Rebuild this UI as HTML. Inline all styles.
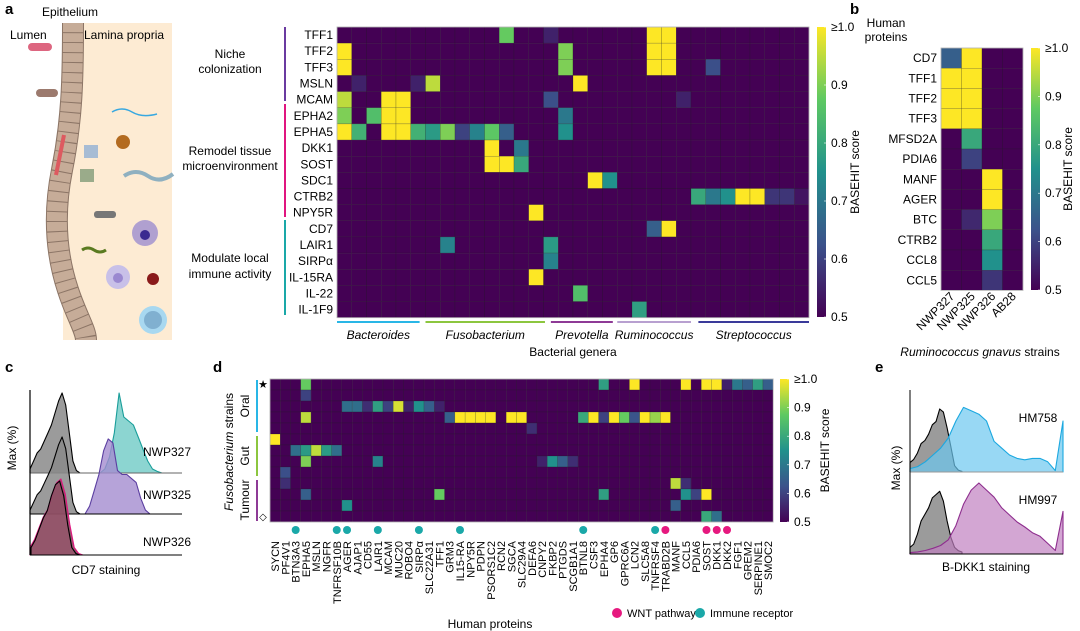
<!DOCTYPE html>
<html><head><meta charset="utf-8"><style>
html,body{margin:0;padding:0;background:#fff}
svg{display:block;font-family:"Liberation Sans",Arial,sans-serif}
</style></head><body>
<svg id="fig" width="1080" height="631" viewBox="0 0 1080 631" xmlns="http://www.w3.org/2000/svg">
<g font-weight="bold" font-size="15">
<text x="5" y="14">a</text><text x="850" y="14">b</text><text x="5" y="372">c</text><text x="213" y="372">d</text><text x="875" y="372">e</text>
</g>
<g>
<rect x="63" y="23" width="109" height="317" fill="#fdebd3"/>
<path d="M73,23 C73,80 72,120 62,170 C52,220 58,260 68,290 C76,315 86,330 86,340" fill="none" stroke="#8c7566" stroke-width="22"/>
<path d="M73,23 C73,80 72,120 62,170 C52,220 58,260 68,290 C76,315 86,330 86,340" fill="none" stroke="#c6ac98" stroke-width="20" stroke-dasharray="9 1"/>
<text x="70" y="16" font-size="12" text-anchor="middle">Epithelium</text>
<text x="10" y="39" font-size="12">Lumen</text>
<text x="84" y="39" font-size="12">Lamina propria</text>
<rect x="28" y="43" width="24" height="8" rx="4" fill="#dd6680"/>
<rect x="36" y="89" width="22" height="8" rx="4" fill="#9c7a6e"/>
<circle cx="123" cy="142" r="7" fill="#b36b20"/>
<path d="M112,112 q10,-6 20,0 t25,2" fill="none" stroke="#38a8e0" stroke-width="1.5"/>
<path d="M124,176 q12,-8 24,0 t25,-2" fill="none" stroke="#8fb0c0" stroke-width="4"/>
<rect x="84" y="145" width="14" height="13" fill="#a7bcd4"/>
<rect x="80" y="169" width="14" height="13" fill="#9aab8a"/>
<path d="M64,135 L56,175" stroke="#dd5a60" stroke-width="4"/>
<rect x="94" y="211" width="22" height="7" rx="3" fill="#777"/>
<circle cx="145" cy="233" r="13" fill="#b0a0d0"/><circle cx="145" cy="235" r="5" fill="#3a2a90"/>
<path d="M82,250 q6,-4 12,0 t12,0" fill="none" stroke="#5a7a20" stroke-width="3"/>
<circle cx="118" cy="277" r="12" fill="#c8c0e8"/><circle cx="118" cy="278" r="5" fill="#9a88d0"/>
<circle cx="153" cy="279" r="6" fill="#8a1a1a"/>
<circle cx="153" cy="320" r="14" fill="#a8d8f0"/><circle cx="153" cy="320" r="9" fill="#80b0d0"/>
</g>
<g font-size="12" text-anchor="middle">
<text x="230" y="58">Niche</text><text x="230" y="73">colonization</text>
<text x="230" y="155">Remodel tissue</text><text x="230" y="170">microenvironment</text>
<text x="230" y="262">Modulate local</text><text x="230" y="278">immune activity</text>
<line x1="285" y1="27" x2="285" y2="101" stroke="#6a3aa0" stroke-width="2"/>
<line x1="285" y1="104" x2="285" y2="217" stroke="#e0157f" stroke-width="2"/>
<line x1="285" y1="220" x2="285" y2="315" stroke="#1aa8a8" stroke-width="2"/>
</g>
<g id="ga"></g>
<g id="gb"></g>
<g id="gd"></g>
<g id="gc"></g>
<g id="ge"></g>
<defs>
<linearGradient id="vir" x1="0" y1="1" x2="0" y2="0">
<stop offset="0" stop-color="#440154"/><stop offset="0.25" stop-color="#3b528b"/><stop offset="0.5" stop-color="#21918c"/><stop offset="0.75" stop-color="#5ec962"/><stop offset="1" stop-color="#fde725"/>
</linearGradient>
</defs>
</svg>
<script>
// ---------- data ----------
const aRows=["TFF1","TFF2","TFF3","MSLN","MCAM","EPHA2","EPHA5","DKK1","SOST","SDC1","CTRB2","NPY5R","CD7","LAIR1","SIRPα","IL-15RA","IL-22","IL-1F9"];
const aNumCols=32;
const aHits=[
 {11:0.88,14:0.55,21:1,22:1},
 {0:1,15:0.9,21:1,22:1},
 {0:1,15:0.9,21:1,22:1,25:0.62},
 {1:0.55,5:0.55,6:0.95,16:1},
 {0:0.95,3:1,4:1,14:0.62,23:0.55},
 {0:0.9,2:0.85,3:1,4:1,15:0.7},
 {0:1,1:0.82,3:1,4:1,5:0.82,6:0.77,7:0.9,8:0.6,9:0.72,10:0.87,11:0.65,15:0.75},
 {10:1,12:0.7},
 {10:1,11:1,12:0.8},
 {17:1,18:0.75},
 {24:0.8,25:0.7,26:0.75,27:1,28:1,29:0.58,30:0.58,31:0.53},
 {13:1},
 {21:0.65,22:1},
 {7:0.72,14:0.77},
 {14:0.72},
 {13:1},
 {16:0.85},
 {20:0.78}
];
const genera=[["Bacteroides",0,5.6,"#29b6e6"],["Fusobacterium",6,14.1,"#8cc63f"],["Prevotella",14.5,18.7,"#8e3a96"],["Ruminococcus",19,24,"#b8a0d0"],["Streptococcus",24.5,32,"#3a3a9a"]];
const bRows=["CD7","TFF1","TFF2","TFF3","MFSD2A","PDIA6","MANF","AGER","BTC","CTRB2","CCL8","CCL5"];
const bCols=["NWP327","NWP325","NWP326","AB28"];
const bVals=[[0.65,1,0.5,0.5],[1,1,0.5,0.5],[1,1,0.5,0.5],[1,1,0.5,0.5],[0.5,0.8,0.5,0.5],[0.5,0.6,0.5,0.5],[0.5,0.5,1,0.5],[0.5,0.5,1,0.5],[0.5,0.56,0.9,0.5],[0.5,0.5,0.8,0.5],[0.5,0.5,0.75,0.5],[0.5,0.5,0.58,0.5]];
const dCols=["SYCN","PF4V1","BTN3A3","EPHA5","MSLN","NGFR","TNFRSF10B","AGER","AJAP1","CD55","LAIR1","MCAM","MUC20","ROBO4","SIRPα","SLC22A31","TFF1","GRM3","IL15-RA","NPY5R","PDPN","PSORS1C2","RCN2","SGCA","SLC29A4","DEFA6","CNPY2","FKBP2","PTGDS","SCGB1A1","BTNL8","CSF3","EPHA4","GP6","GPRC6A","LCN2","SLC5A8","TNFRSF4","TRABD2B","MANF","CCL5","PDIA6","SOST","DKK1","DKK2","FGF1","GREM2","SERPINE1","SMOC2"];
const dNumRows=13;
const dHits=[
 {3:0.88,32:0.78,35:1,40:1,42:1,43:1,44:0.55,45:0.7,46:0.65,47:0.78,48:0.65},
 {3:0.6},
 {7:0.68,8:0.68,9:0.57,10:0.78,11:0.6,12:0.97,13:0.55,14:0.75,15:0.65,16:0.55},
 {3:0.95,17:0.65,18:1,19:1,20:1,21:1,23:1,24:1,30:0.8,31:1,32:0.6,33:1,34:0.88,35:0.63,36:1,37:0.92,38:1},
 {25:0.57},
 {0:1},
 {2:0.68,3:0.77,4:0.95,5:0.77,6:0.68},
 {3:0.9,10:0.72,26:0.55,27:0.75,28:0.65,29:0.57},
 {1:0.62},
 {1:0.57,39:0.95,40:0.57},
 {3:0.65,16:0.88,32:0.78,40:0.75,41:0.6,42:1},
 {7:0.75,39:0.65},
 {42:0.8,43:0.68}
];
const immuneCols=[2,6,7,10,14,18,30,37];
const wntCols=[38,42,43,44];
const ticks=["≥1.0","0.9","0.8","0.7","0.6","0.5"];
const tickVals=[1,0.9,0.8,0.7,0.6,0.5];
// histogram densities (relative heights)
const cGray=[0.05,0.15,0.25,0.3,0.4,0.5,0.6,0.75,0.9,1,0.85,0.5,0.15,0.03,0];
const cTeal=[0,0.05,0.2,0.5,1,0.7,0.65,0.6,0.45,0.3,0.15,0.05,0.02,0];
const cPurple=[0,0.1,0.3,0.5,0.8,0.95,0.9,0.55,0.5,0.5,0.45,0.4,0.2,0.05,0];
const cPink=[0.1,0.2,0.35,0.5,0.6,0.8,0.95,1,0.8,0.4,0.1,0.02,0];
const eGray1=[0.15,0.2,0.3,0.45,0.5,0.6,0.75,0.8,1,0.95,0.7,0.4,0.1,0.03,0.01];
const eBlue=[0.05,0.08,0.15,0.25,0.35,0.5,0.75,0.95,0.9,0.85,0.75,0.45,0.35,0.25,0.2,0.18,0.2,0.2,0.15,0.02,0.75];
const eGray2=[0.1,0.15,0.3,0.5,0.6,0.7,0.85,0.9,0.95,0.8,0.5,0.25,0.1,0.05,0.03];
const eMag=[0.02,0.03,0.05,0.08,0.12,0.2,0.4,0.7,0.9,1,0.9,0.8,0.65,0.55,0.45,0.38,0.3,0.25,0.15,0.05,0.6];

// ---------- helpers ----------
const NS="http://www.w3.org/2000/svg";
function mk(parent,tag,attrs,txt){const e=document.createElementNS(NS,tag);for(const k in attrs)e.setAttribute(k,attrs[k]);if(txt!==undefined)e.textContent=txt;parent.appendChild(e);return e;}
const stops=[[0,[68,1,84]],[0.25,[59,82,139]],[0.5,[33,145,140]],[0.75,[94,201,98]],[1,[253,231,37]]];
function vir(v){let t=Math.max(0,Math.min(1,(v-0.5)/0.5));for(let i=0;i<4;i++){const a=stops[i],b=stops[i+1];if(t<=b[0]){const f=(t-a[0])/(b[0]-a[0]);return "rgb("+a[1].map((c,j)=>Math.round(c+(b[1][j]-c)*f)).join(",")+")";}}return "rgb(253,231,37)";}
function heat(g,x0,y0,cw,rh,nr,nc,val,name){
 for(let r=0;r<nr;r++)for(let c=0;c<nc;c++){
  const el=mk(g,"rect",{x:x0+c*cw,y:y0+r*rh,width:cw,height:rh,fill:vir(val(r,c)),stroke:"#222",'stroke-width':0.4,'stroke-opacity':0.5});
  
  
 }
 mk(g,"rect",{x:x0,y:y0,width:cw*nc,height:rh*nr,fill:"none",stroke:"#bbb",'stroke-width':0.8});
}
function cbar(g,x,y0,y1,w,fs,titleX){
 const cb=mk(g,"rect",{x:x,y:y0,width:w,height:y1-y0,fill:"url(#vir)"});
 
 
 const sc=v=>y1-(v-0.5)/0.5*(y1-y0);
 tickVals.forEach((v,i)=>{const yy=sc(v);mk(g,"line",{x1:x+w-2,x2:x+w,y1:yy,y2:yy,stroke:"#fff",'stroke-width':0.6});
  const t=mk(g,"text",{x:x+w+5,y:yy+4,'font-size':fs},ticks[i]);});
 const tt=mk(g,"text",{x:titleX,y:(y0+y1)/2,'font-size':fs,'text-anchor':'middle',transform:`rotate(-90 ${titleX} ${(y0+y1)/2})`},"BASEHIT score");
 
 
}
// ---------- panel a ----------
(function(){
 const g=document.getElementById('ga');const x0=337,y0=27,cw=14.75,rh=16.15;
 heat(g,x0,y0,cw,rh,aRows.length,aNumCols,(r,c)=>aHits[r][c]!==undefined?aHits[r][c]:0.5,'a');
 aRows.forEach((n,i)=>{const t=mk(g,"text",{x:x0-4,y:y0+i*rh+rh/2+4,'font-size':12,'text-anchor':'end'},n);});
 genera.forEach(gn=>{const xa=x0+gn[1]*cw,xb=x0+gn[2]*cw;
  mk(g,"line",{x1:xa,x2:xb,y1:322,y2:322,stroke:gn[3],'stroke-width':2});
  const t=mk(g,"text",{x:(xa+xb)/2,y:339,'font-size':12,'font-style':'italic','text-anchor':'middle'},gn[0]);});
 const xt=mk(g,"text",{x:573,y:356,'font-size':12,'text-anchor':'middle'},"Bacterial genera");
 cbar(g,817,27,317,9,12,859);
})();
// ---------- panel b ----------
(function(){
 const g=document.getElementById('gb');const x0=941,y0=48,cw=20.5,rh=20.2;
 heat(g,x0,y0,cw,rh,bRows.length,bCols.length,(r,c)=>bVals[r][c],'b');
 mk(g,"text",{x:886,y:27,'font-size':12,'text-anchor':'middle'},"Human");
 mk(g,"text",{x:886,y:41,'font-size':12,'text-anchor':'middle'},"proteins");
 bRows.forEach((n,i)=>{const t=mk(g,"text",{x:x0-4,y:y0+i*rh+rh/2+4,'font-size':12,'text-anchor':'end'},n);});
 bCols.forEach((n,i)=>{const cx=x0+i*cw+cw/2+4,cy=297;const t=mk(g,"text",{x:cx,y:cy,'font-size':12,'text-anchor':'end',transform:`rotate(-45 ${cx} ${cy})`},n);});
 const xt=mk(g,"text",{x:980,y:356,'font-size':12,'text-anchor':'middle'});xt.innerHTML='<tspan font-style="italic">Ruminococcus gnavus</tspan> strains';
 
 
 cbar(g,1031,48,290,9,12,1072);
})();
// ---------- panel d ----------
(function(){
 const g=document.getElementById('gd');const x0=270,y0=379,cw=10.27,rh=11;
 heat(g,x0,y0,cw,rh,dNumRows,dCols.length,(r,c)=>dHits[r][c]!==undefined?dHits[r][c]:0.5,'d');
 dCols.forEach((n,i)=>{const cx=x0+i*cw+cw/2+4,cy=541;const t=mk(g,"text",{x:cx,y:cy,'font-size':11,'text-anchor':'end',transform:`rotate(-90 ${cx} ${cy})`},n);});
 immuneCols.forEach(c=>{const d=mk(g,"circle",{cx:x0+c*cw+cw/2,cy:530,r:4,fill:"#1aa8a8"});});
 wntCols.forEach(c=>{const d=mk(g,"circle",{cx:x0+c*cw+cw/2,cy:530,r:4,fill:"#e6197f"});});
 mk(g,"line",{x1:257,x2:257,y1:380,y2:432,stroke:"#29b6e6",'stroke-width':2});
 mk(g,"line",{x1:257,x2:257,y1:436,y2:476,stroke:"#8cc63f",'stroke-width':2});
 mk(g,"line",{x1:257,x2:257,y1:480,y2:521,stroke:"#8e3a96",'stroke-width':2});
 mk(g,"text",{x:263,y:388,'font-size':11,'text-anchor':'middle'},"★");
 mk(g,"text",{x:263,y:520,'font-size':10,'text-anchor':'middle'},"◇");
 [["Oral",406],["Gut",456],["Tumour",500]].forEach(o=>{const t=mk(g,"text",{x:249,y:o[1],'font-size':12,'text-anchor':'middle',transform:`rotate(-90 249 ${o[1]})`},o[0]);});
 const ft=mk(g,"text",{x:233,y:452,'font-size':12,'text-anchor':'middle',transform:'rotate(-90 233 452)'});ft.innerHTML='<tspan font-style="italic">Fusobacterium</tspan> strains';
 
 
 const l1=mk(g,"circle",{cx:617,cy:613,r:5,fill:"#e6197f"});
 mk(g,"text",{x:627,y:617,'font-size':11},"WNT pathway");
 const l2=mk(g,"circle",{cx:700,cy:613,r:5,fill:"#1aa8a8"});
 mk(g,"text",{x:710,y:617,'font-size':11},"Immune receptor");
 const xt=mk(g,"text",{x:490,y:628,'font-size':12,'text-anchor':'middle'},"Human proteins");
 cbar(g,780,379,522,9,12,829);
})();
// ---------- histograms ----------
function hist(g,xa,xb,base,scale,vals,fill,stroke,op,name){
 const n=vals.length,step=(xb-xa)/(n-1);let d=`M${xa},${base}`;
 vals.forEach((v,i)=>{d+=` L${(xa+i*step).toFixed(1)},${(base-v*scale).toFixed(1)}`;});
 d+=` L${xb},${base} Z`;
 const p=mk(g,"path",{d:d,fill:fill,'fill-opacity':op,stroke:stroke,'stroke-width':1.1,'stroke-linejoin':'round'});
 
 
}
(function(){
 const g=document.getElementById('gc');
 hist(g,30,80,473,80,cGray,"#8a8a8a","#000",0.85,'nwp327-control');
 hist(g,100,162,473,80,cTeal,"#6fcac6","#1a9e9a",0.8,'nwp327-hist');
 mk(g,"line",{x1:30,x2:182,y1:473,y2:473,stroke:"#666",'stroke-width':1});
 hist(g,30,80,514,77,cGray,"#8a8a8a","#000",0.85,'nwp325-control');
 hist(g,85,150,514,79,cPurple,"#a48ccf","#5b3ea0",0.8,'nwp325-hist');
 mk(g,"line",{x1:30,x2:182,y1:514,y2:514,stroke:"#000",'stroke-width':1});
 hist(g,30,83,555,76,cPink,"#8e4d63","#e0157f",0.95,'nwp326-hist');
 hist(g,31,80,555,74,cPink,"none","#000",1,'nwp326-control');
 mk(g,"line",{x1:30,x2:30,y1:390,y2:555,stroke:"#000",'stroke-width':1.2});
 mk(g,"line",{x1:30,x2:182,y1:555,y2:555,stroke:"#000",'stroke-width':1});
 mk(g,"text",{x:143,y:456,'font-size':12},"NWP327");
 mk(g,"text",{x:143,y:499,'font-size':12},"NWP325");
 mk(g,"text",{x:143,y:546,'font-size':12},"NWP326");
 mk(g,"text",{x:106,y:574,'font-size':12,'text-anchor':'middle'},"CD7 staining");
 mk(g,"text",{x:16,y:448,'font-size':12,'text-anchor':'middle',transform:'rotate(-90 16 448)'},"Max (%)");
})();
(function(){
 const g=document.getElementById('ge');
 hist(g,910,962,472,63,eGray1,"#8a8a8a","#000",0.85,'hm758-control');
 hist(g,910,1063,472,68,eBlue,"#6cc8f0","#1ba8e0",0.7,'hm758-hist');
 mk(g,"line",{x1:910,x2:1063,y1:472,y2:472,stroke:"#999",'stroke-width':1});
 hist(g,910,962,554,66,eGray2,"#8a8a8a","#000",0.85,'hm997-control');
 hist(g,910,1063,554,71,eMag,"#c080c0","#8e2e8e",0.7,'hm997-hist');
 mk(g,"line",{x1:910,x2:910,y1:390,y2:554,stroke:"#000",'stroke-width':1});
 mk(g,"line",{x1:910,x2:1063,y1:554,y2:554,stroke:"#000",'stroke-width':1});
 mk(g,"text",{x:1038,y:422,'font-size':12,'text-anchor':'middle'},"HM758");
 mk(g,"text",{x:1038,y:504,'font-size':12,'text-anchor':'middle'},"HM997");
 mk(g,"text",{x:986,y:571,'font-size':12,'text-anchor':'middle'},"B-DKK1 staining");
 mk(g,"text",{x:900,y:468,'font-size':12,'text-anchor':'middle',transform:'rotate(-90 900 468)'},"Max (%)");
})();
</script>
</body></html>
